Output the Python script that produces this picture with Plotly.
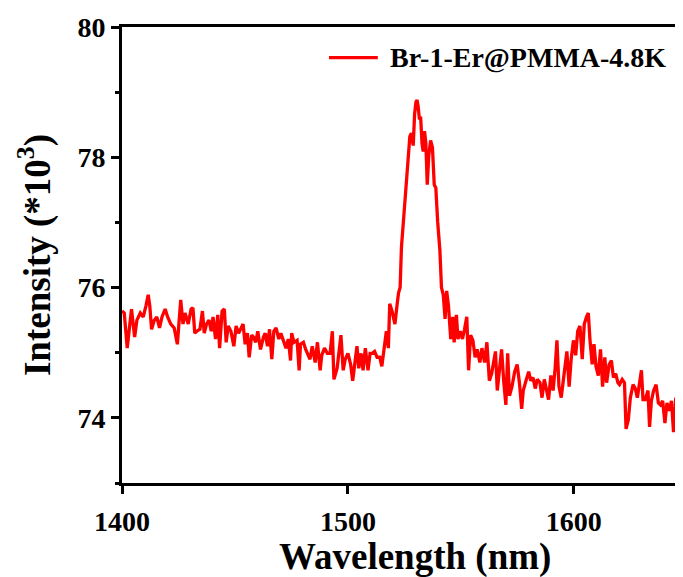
import plotly.graph_objects as go

wavelength = [
    1400.0, 1401.0, 1402.3, 1403.7, 1404.2, 1405.6, 1406.6, 1408.1, 1409.4, 1410.6,
    1411.6, 1412.3, 1413.1, 1414.3, 1415.4, 1416.6, 1417.7, 1419.1, 1420.2, 1421.6,
    1423.1, 1424.5, 1425.4, 1426.0, 1427.0, 1427.9, 1429.3, 1430.6, 1431.4, 1432.2,
    1433.1, 1434.5, 1435.6, 1436.4, 1437.4, 1438.5, 1439.5, 1440.3, 1441.4, 1442.4,
    1443.2, 1444.3, 1445.3, 1446.1, 1447.0, 1448.2, 1449.5, 1450.5, 1451.6, 1452.6,
    1453.6, 1454.5, 1455.5, 1456.3, 1457.4, 1458.2, 1459.2, 1460.1, 1461.3, 1462.6,
    1463.4, 1464.4, 1465.3, 1466.3, 1467.2, 1468.2, 1469.4, 1470.3, 1471.7, 1472.6,
    1473.6, 1474.6, 1475.1, 1476.1, 1477.5, 1478.4, 1479.0, 1480.3, 1481.3, 1482.3,
    1483.2, 1484.2, 1485.5, 1486.5, 1487.7, 1488.4, 1489.6, 1490.9, 1492.1, 1493.1,
    1493.8, 1495.2, 1496.1, 1496.9, 1497.9, 1498.8, 1500.0, 1501.2, 1502.1, 1503.1,
    1504.0, 1504.8, 1505.8, 1506.7, 1507.7, 1508.9, 1509.8, 1510.8, 1511.8, 1512.9,
    1514.1, 1515.0, 1516.0, 1517.0, 1517.9, 1518.5, 1519.5, 1520.8, 1521.8, 1522.4,
    1523.1, 1523.7, 1524.7, 1525.6, 1526.6, 1527.4, 1528.1, 1528.9, 1529.5, 1530.1,
    1530.6, 1531.0, 1531.6, 1532.2, 1532.8, 1533.3, 1533.9, 1534.5, 1535.1, 1535.8,
    1536.6, 1537.4, 1538.2, 1538.9, 1539.7, 1540.7, 1541.4, 1542.2, 1543.0, 1543.7,
    1544.5, 1545.5, 1546.4, 1547.0, 1548.0, 1548.7, 1549.7, 1550.7, 1551.6, 1552.6,
    1553.4, 1554.3, 1555.3, 1556.3, 1557.2, 1558.4, 1559.3, 1560.5, 1561.5, 1562.6,
    1563.6, 1564.4, 1565.3, 1566.1, 1567.1, 1568.0, 1569.0, 1569.9, 1570.7, 1571.5,
    1572.6, 1573.8, 1574.9, 1575.9, 1576.9, 1577.6, 1578.8, 1580.0, 1580.9, 1581.9,
    1582.9, 1583.8, 1585.0, 1585.9, 1586.9, 1587.9, 1588.8, 1589.8, 1590.8, 1591.7,
    1592.5, 1593.4, 1594.4, 1595.2, 1596.1, 1596.9, 1597.9, 1598.8, 1599.8, 1600.8,
    1601.7, 1602.7, 1603.7, 1604.6, 1605.6, 1606.4, 1607.1, 1608.1, 1608.9, 1609.8,
    1610.8, 1611.8, 1612.7, 1613.7, 1614.5, 1615.6, 1616.6, 1617.5, 1618.5, 1619.5,
    1620.2, 1621.4, 1622.4, 1623.1, 1624.1, 1625.0, 1626.2, 1627.2, 1628.1, 1629.1,
    1629.9, 1630.6, 1631.6, 1632.8, 1633.5, 1634.3, 1635.3, 1636.4, 1637.4, 1638.3,
    1639.3, 1640.3, 1641.2, 1642.2, 1643.2, 1644.1, 1645.1, 1646.1, 1647.0, 1648.0,
]

intensity = [
    75.64, 75.61, 75.07, 75.50, 75.67, 75.24, 75.50, 75.61, 75.55, 75.72,
    75.89, 75.72, 75.36, 75.50, 75.55, 75.38, 75.55, 75.67, 75.55, 75.44,
    75.38, 75.13, 75.55, 75.81, 75.44, 75.61, 75.44, 75.67, 75.69, 75.30,
    75.33, 75.36, 75.64, 75.30, 75.44, 75.50, 75.33, 75.55, 75.21, 75.58,
    75.07, 75.64, 75.67, 75.16, 75.41, 75.33, 75.10, 75.41, 75.30, 75.38,
    75.44, 75.13, 75.30, 74.93, 75.27, 75.24, 75.16, 75.33, 75.05, 75.24,
    75.30, 75.10, 75.36, 74.90, 75.33, 75.38, 75.21, 75.30, 75.16, 75.07,
    75.21, 74.88, 75.30, 75.16, 75.19, 74.73, 75.13, 75.16, 75.05, 74.96,
    74.90, 75.10, 74.85, 75.16, 74.73, 74.96, 75.07, 74.99, 74.99, 75.33,
    74.59, 74.76, 75.02, 75.27, 74.73, 74.90, 74.99, 74.82, 74.57, 74.85,
    75.10, 74.76, 74.99, 74.73, 75.07, 74.73, 74.99, 74.99, 75.02, 74.93,
    74.93, 74.79, 75.10, 75.33, 75.07, 75.75, 75.64, 75.44, 75.75, 75.92,
    76.00, 76.63, 77.08, 77.53, 77.87, 78.32, 78.37, 78.18, 78.66, 78.85,
    78.88, 78.80, 78.60, 78.60, 78.21, 78.09, 78.40, 78.21, 77.58, 78.04,
    78.26, 78.15, 77.58, 77.53, 77.02, 76.57, 76.00, 75.89, 75.52, 75.95,
    75.72, 75.21, 75.55, 75.16, 75.58, 75.21, 75.33, 75.21, 75.36, 75.55,
    74.73, 75.27, 75.19, 74.93, 75.05, 74.85, 75.07, 74.85, 75.16, 74.57,
    74.68, 74.88, 75.02, 74.42, 74.76, 75.05, 74.54, 74.20, 74.99, 74.34,
    74.48, 74.71, 74.82, 74.54, 74.14, 74.42, 74.57, 74.71, 74.57, 74.62,
    74.45, 74.59, 74.54, 74.31, 74.59, 74.42, 74.28, 74.65, 74.42, 74.76,
    75.19, 74.48, 74.31, 74.54, 74.76, 75.02, 74.48, 74.90, 75.19, 74.96,
    75.33, 75.41, 74.90, 75.44, 75.55, 75.61, 75.21, 74.82, 75.13, 74.79,
    74.65, 75.05, 74.48, 74.93, 74.54, 74.82, 74.88, 74.62, 74.68, 74.54,
    74.51, 74.59, 74.54, 73.83, 73.97, 74.31, 74.51, 74.45, 74.31, 74.59,
    74.73, 74.28, 74.28, 74.42, 73.86, 74.26, 74.42, 74.51, 74.23, 74.20,
    74.26, 73.92, 74.23, 74.11, 74.26, 73.78, 74.31, 74.17, 74.23, 74.11,
]

series_name = "Br-1-Er@PMMA-4.8K"
x_title = "Wavelength (nm)"
y_title = "Intensity (*10<sup>3</sup>)"
x_ticks = [1400, 1500, 1600]
y_ticks = [74, 76, 78, 80]

FONT = "Liberation Serif"
RED = "#ff0000"

fig = go.Figure()
fig.add_trace(go.Scatter(
    x=wavelength, y=intensity, mode="lines", name=series_name,
    line=dict(color=RED, width=3.3), showlegend=False,
))

axis_common = dict(
    showline=True, linecolor="black", linewidth=3,
    ticks="outside", ticklen=8, tickwidth=3, tickcolor="black",
    showgrid=False, zeroline=False,
    tickfont=dict(family=FONT, size=28, color="black", weight="bold"),
)

fig.update_xaxes(
    range=[1400, 1648.3], tickvals=x_ticks, mirror=True,
    ticklabelstandoff=3, **axis_common,
)
fig.update_yaxes(
    range=[73, 80], tickvals=y_ticks, mirror=False, ticklabelstandoff=0,
    minor=dict(dtick=1, tick0=73, ticks="outside", ticklen=4, tickwidth=3,
               tickcolor="black"),
    **axis_common,
)

# legend (drawn manually to match sample length)
fig.add_shape(type="line", xref="paper", yref="paper",
              x0=0.369, x1=0.456, y0=0.933, y1=0.933,
              line=dict(color=RED, width=3.3))
fig.add_annotation(xref="paper", yref="paper", x=0.474, y=0.933,
                   text=series_name, showarrow=False,
                   xanchor="left", yanchor="middle",
                   font=dict(family=FONT, size=28, color="black", weight="bold"))

fig.add_annotation(xref="paper", yref="paper", x=0.523, y=-0.163,
                   text=x_title, showarrow=False,
                   xanchor="center", yanchor="middle",
                   font=dict(family=FONT, size=37, color="black", weight="bold"))
fig.add_annotation(xref="paper", yref="paper", x=-0.155, y=0.5,
                   text=y_title, showarrow=False, textangle=-90,
                   xanchor="center", yanchor="middle",
                   font=dict(family=FONT, size=37, color="black", weight="bold"))

# page body has an 8px default margin, so the figure is offset by 8px
fig.update_layout(
    width=675, height=569,
    margin=dict(l=114, r=0, t=19, b=94),
    paper_bgcolor="white", plot_bgcolor="white",
)

fig.write_html("out.html")
